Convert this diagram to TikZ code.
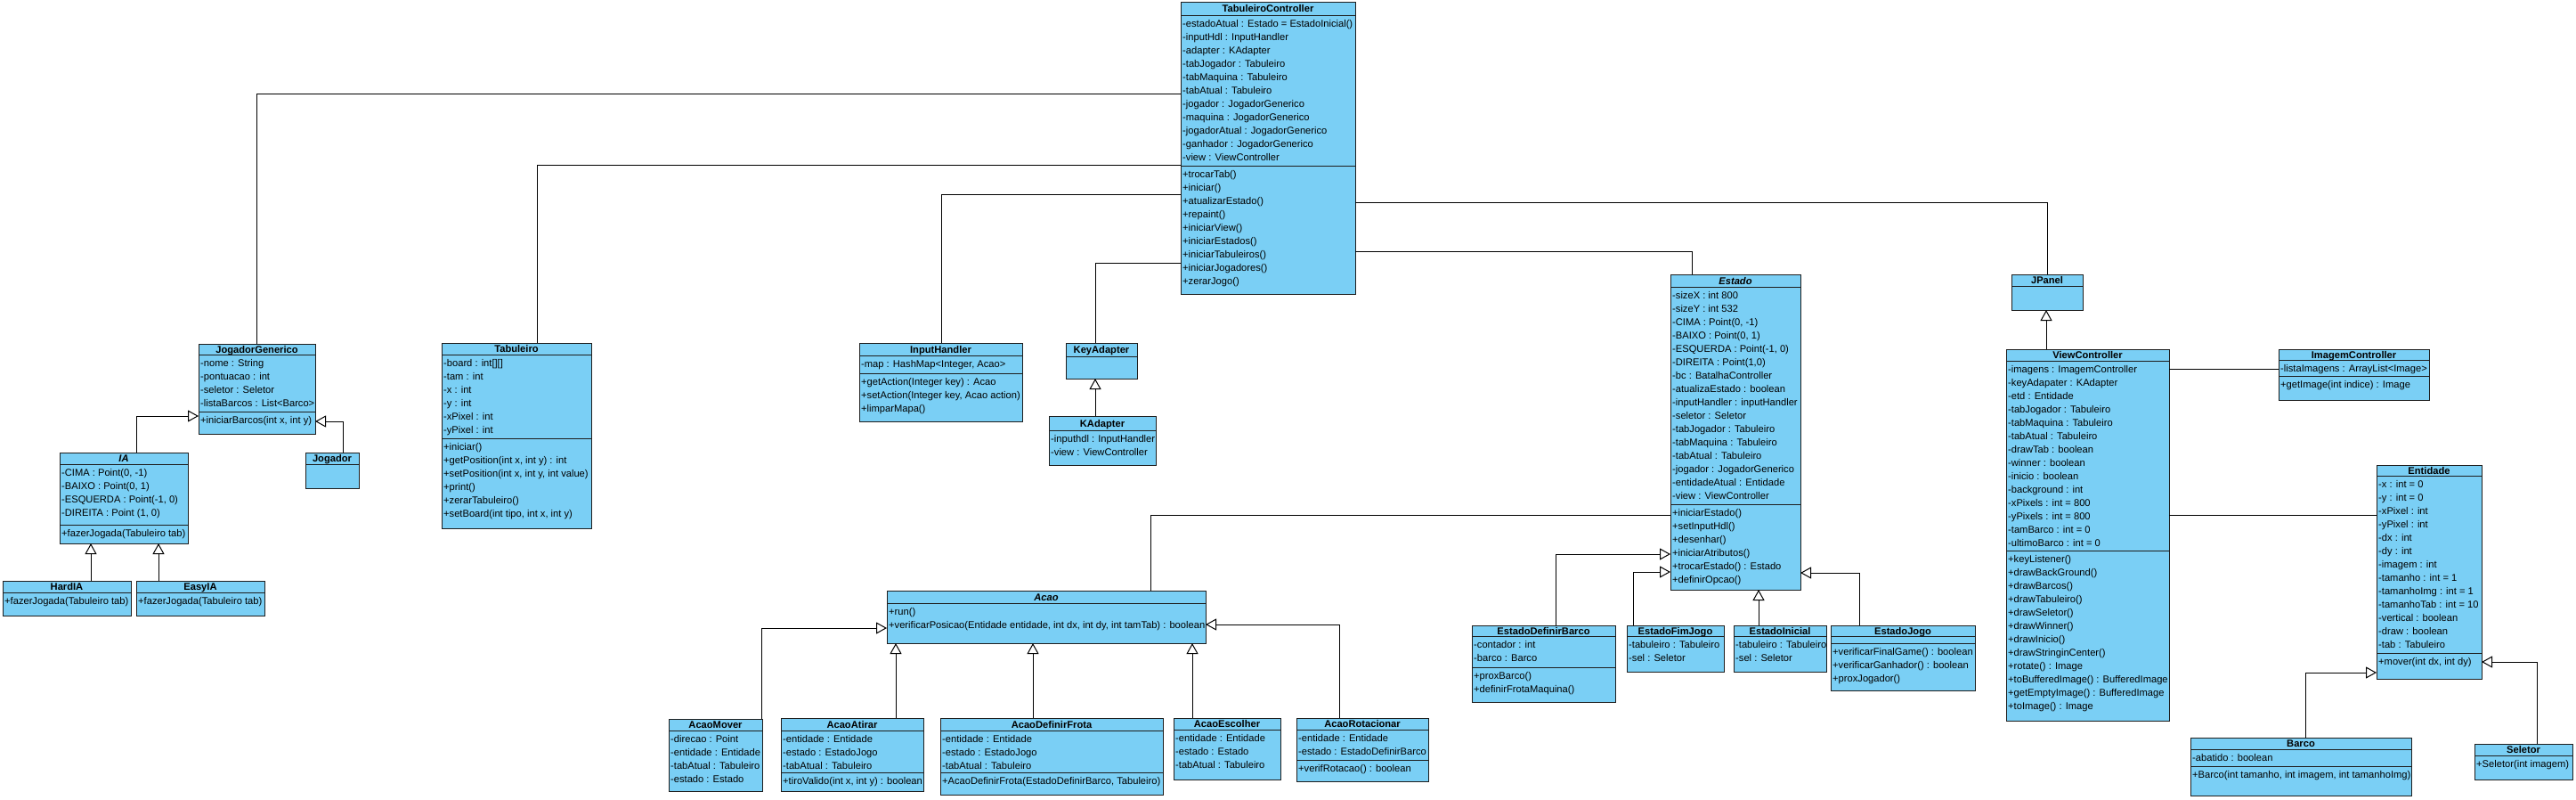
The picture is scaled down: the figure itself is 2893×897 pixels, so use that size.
\documentclass[tikz,border=0pt]{standalone}
\usepackage{fontspec}
\setmainfont{Liberation Sans}
\usetikzlibrary{arrows.meta}
\definecolor{clsfill}{RGB}{122,207,245}
\definecolor{clsline}{RGB}{30,30,30}
\tikzset{
  clsbox/.style={draw=clsline, fill=clsfill, line width=1pt, inner sep=0pt, outer sep=0pt},
  divl/.style={draw=clsline, line width=1pt},
  ttl/.style={anchor=base, inner sep=0pt, font=\fontsize{11.15}{15}\selectfont\bfseries},
  txt/.style={anchor=north west, align=left, inner sep=0pt, font=\fontsize{11.15}{15}\selectfont},
  assoc/.style={draw=black, line width=1pt},
  gen/.style={draw=black, line width=1pt, -{Triangle[open, length=12pt, width=13pt]}},
}
% name, x1, y1, x2, y2, y of title line, title, attributes
\newcommand{\umlcls}[8]{%
  \node[clsbox, anchor=north west, minimum width={#4-#2}, minimum height={#5-#3}] (#1) at (#2,#3) {};
  \draw[divl] (#2,#6) -- (#4,#6);
  \pgfmathsetmacro{\ux}{(#2+#4)/2}%
  \pgfmathsetmacro{\uy}{(#3+#6)/2+4}%
  \node[ttl] (#1-t) at (\ux,\uy) {#7};
  \node[txt] (#1-a) at ({#2+2},{#6+3}) {\strut#8};
}
% name, x1, x2, y of divider, operations
\newcommand{\umlops}[5]{%
  \draw[divl] (#2,#4) -- (#3,#4);
  \node[txt] (#1-o) at ({#2+2},{#4+3}) {\strut#5};
}
\begin{document}
\begin{tikzpicture}[x=1pt, y=-1pt]
\fill[white] (0,0) rectangle (2893,897);
\useasboundingbox (0,0) rectangle (2893,897);

% ---- TabuleiroController
\umlcls{TC}{1326}{2}{1522}{330}{17}{TabuleiroController}{-estadoAtual : Estado = EstadoInicial()\\-inputHdl : InputHandler\\-adapter : KAdapter\\-tabJogador : Tabuleiro\\-tabMaquina : Tabuleiro\\-tabAtual : Tabuleiro\\-jogador : JogadorGenerico\\-maquina : JogadorGenerico\\-jogadorAtual : JogadorGenerico\\-ganhador : JogadorGenerico\\-view : ViewController}
\umlops{TC}{1326}{1522}{186}{+trocarTab()\\+iniciar()\\+atualizarEstado()\\+repaint()\\+iniciarView()\\+iniciarEstados()\\+iniciarTabuleiros()\\+iniciarJogadores()\\+zerarJogo()}

% ---- JogadorGenerico and players
\umlcls{JG}{223}{386}{354}{487}{398}{JogadorGenerico}{-nome : String\\-pontuacao : int\\-seletor : Seletor\\-listaBarcos : List<Barco>}
\umlops{JG}{223}{354}{462}{+iniciarBarcos(int x, int y)}

\umlcls{IA}{67}{508}{211}{610}{521}{\itshape IA}{-CIMA : Point(0, -1)\\-BAIXO : Point(0, 1)\\-ESQUERDA : Point(-1, 0)\\-DIREITA : Point (1, 0)}
\umlops{IA}{67}{211}{589}{+fazerJogada(Tabuleiro tab)}

\umlcls{HIA}{3}{652}{147}{691}{665}{HardIA}{}
\umlops{HIA}{3}{147}{665}{+fazerJogada(Tabuleiro tab)}
\umlcls{EIA}{153}{652}{297}{691}{665}{EasyIA}{}
\umlops{EIA}{153}{297}{665}{+fazerJogada(Tabuleiro tab)}

\umlcls{JOG}{343}{508}{403}{548}{521}{Jogador}{}

% ---- Tabuleiro
\umlcls{TB}{496}{385}{664}{593}{398}{Tabuleiro}{-board : int[][]\\-tam : int\\-x : int\\-y : int\\-xPixel : int\\-yPixel : int}
\umlops{TB}{496}{664}{492}{+iniciar()\\+getPosition(int x, int y) : int\\+setPosition(int x, int y, int value)\\+print()\\+zerarTabuleiro()\\+setBoard(int tipo, int x, int y)}

% ---- InputHandler, KeyAdapter, KAdapter
\umlcls{IH}{965}{385}{1148}{473}{399}{InputHandler}{-map : HashMap<Integer, Acao>}
\umlops{IH}{965}{1148}{419}{+getAction(Integer key) : Acao\\+setAction(Integer key, Acao action)\\+limparMapa()}

\umlcls{KA}{1197}{385}{1277}{425}{400}{KeyAdapter}{}
\umlcls{KAD}{1178}{467}{1298}{522}{483}{KAdapter}{-inputhdl : InputHandler\\-view : ViewController}

% ---- Estado and subclasses
\umlcls{ES}{1876}{308}{2022}{662}{322}{\itshape Estado}{-sizeX : int 800\\-sizeY : int 532\\-CIMA : Point(0, -1)\\-BAIXO : Point(0, 1)\\-ESQUERDA : Point(-1, 0)\\-DIREITA : Point(1,0)\\-bc : BatalhaController\\-atualizaEstado : boolean\\-inputHandler : inputHandler\\-seletor : Seletor\\-tabJogador : Tabuleiro\\-tabMaquina : Tabuleiro\\-tabAtual : Tabuleiro\\-jogador : JogadorGenerico\\-entidadeAtual : Entidade\\-view : ViewController}
\umlops{ES}{1876}{2022}{566}{+iniciarEstado()\\+setInputHdl()\\+desenhar()\\+iniciarAtributos()\\+trocarEstado() : Estado\\+definirOpcao()}

\umlcls{EDB}{1653}{702}{1814}{788}{714}{EstadoDefinirBarco}{-contador : int\\-barco : Barco}
\umlops{EDB}{1653}{1814}{749}{+proxBarco()\\+definirFrotaMaquina()}
\umlcls{EFJ}{1827}{702}{1936}{754}{714}{EstadoFimJogo}{-tabuleiro : Tabuleiro\\-sel : Seletor}
\umlcls{EIN}{1947}{702}{2051}{754}{714}{EstadoInicial}{-tabuleiro : Tabuleiro\\-sel : Seletor}
\umlcls{EJ}{2056}{702}{2218}{775}{714}{EstadoJogo}{}
\umlops{EJ}{2056}{2218}{722}{+verificarFinalGame() : boolean\\+verificarGanhador() : boolean\\+proxJogador()}

% ---- Acao and subclasses
\umlcls{AC}{996}{663}{1354}{722}{677}{\itshape Acao}{}
\umlops{AC}{996}{1354}{677}{+run()\\+verificarPosicao(Entidade entidade, int dx, int dy, int tamTab) : boolean}

\umlcls{AM}{751}{807}{856}{888}{820}{AcaoMover}{-direcao : Point\\-entidade : Entidade\\-tabAtual : Tabuleiro\\-estado : Estado}
\umlcls{AA}{877}{806}{1037}{888}{820}{AcaoAtirar}{-entidade : Entidade\\-estado : EstadoJogo\\-tabAtual : Tabuleiro}
\umlops{AA}{877}{1037}{867}{+tiroValido(int x, int y) : boolean}
\umlcls{ADF}{1056}{806}{1306}{892}{820}{AcaoDefinirFrota}{-entidade : Entidade\\-estado : EstadoJogo\\-tabAtual : Tabuleiro}
\umlops{ADF}{1056}{1306}{867}{+AcaoDefinirFrota(EstadoDefinirBarco, Tabuleiro)}
\umlcls{AE}{1318}{806}{1438}{875}{819}{AcaoEscolher}{-entidade : Entidade\\-estado : Estado\\-tabAtual : Tabuleiro}
\umlcls{AR}{1456}{806}{1604}{877}{819}{AcaoRotacionar}{-entidade : Entidade\\-estado : EstadoDefinirBarco}
\umlops{AR}{1456}{1604}{853}{+verifRotacao() : boolean}

% ---- View side
\umlcls{JP}{2259}{308}{2339}{348}{321}{JPanel}{}
\umlcls{VC}{2253}{392}{2436}{809}{405}{ViewController}{-imagens : ImagemController\\-keyAdapater : KAdapter\\-etd : Entidade\\-tabJogador : Tabuleiro\\-tabMaquina : Tabuleiro\\-tabAtual : Tabuleiro\\-drawTab : boolean\\-winner : boolean\\-inicio : boolean\\-background : int\\-xPixels : int = 800\\-yPixels : int = 800\\-tamBarco : int = 0\\-ultimoBarco : int = 0}
\umlops{VC}{2253}{2436}{618}{+keyListener()\\+drawBackGround()\\+drawBarcos()\\+drawTabuleiro()\\+drawSeletor()\\+drawWinner()\\+drawInicio()\\+drawStringinCenter()\\+rotate() : Image\\+toBufferedImage() : BufferedImage\\+getEmptyImage() : BufferedImage\\+toImage() : Image}
\umlcls{IC}{2559}{392}{2728}{449}{404}{ImagemController}{-listaImagens : ArrayList<Image>}
\umlops{IC}{2559}{2728}{422}{+getImage(int indice) : Image}
\umlcls{EN}{2669}{522}{2787}{762}{534}{Entidade}{-x : int = 0\\-y : int = 0\\-xPixel : int\\-yPixel : int\\-dx : int\\-dy : int\\-imagem : int\\-tamanho : int = 1\\-tamanhoImg : int = 1\\-tamanhoTab : int = 10\\-vertical : boolean\\-draw : boolean\\-tab : Tabuleiro}
\umlops{EN}{2669}{2787}{733}{+mover(int dx, int dy)}
\umlcls{BA}{2460}{828}{2708}{893}{841}{Barco}{-abatido : boolean}
\umlops{BA}{2460}{2708}{860}{+Barco(int tamanho, int imagem, int tamanhoImg)}
\umlcls{SE}{2779}{835}{2889}{875}{848}{Seletor}{}
\umlops{SE}{2779}{2889}{848}{+Seletor(int imagem)}

% ---- associations
\draw[assoc] (288,0 |- JG.north) |- (TC.west |- 0,105);
\draw[assoc] (603,0 |- TB.north) |- (TC.west |- 0,185);
\draw[assoc] (1057,0 |- IH.north) |- (TC.west |- 0,218);
\draw[assoc] (1230,0 |- KA.north) |- (TC.west |- 0,295);
\draw[assoc] (TC.east |- 0,227) -| (2299,0 |- JP.north);
\draw[assoc] (TC.east |- 0,282) -| (1900,0 |- ES.north);
\draw[assoc] (1292,0 |- AC.north) |- (ES.west |- 0,578);
\draw[assoc] (VC.east |- 0,414) -- (IC.west |- 0,414);
\draw[assoc] (VC.east |- 0,578) -- (EN.west |- 0,578);

% ---- generalizations
\draw[gen] (1230,0 |- KAD.north) -- (1230,0 |- KA.south);
\draw[gen] (153,0 |- IA.north) |- (JG.west |- 0,467);
\draw[gen] (385,0 |- JOG.north) |- (JG.east |- 0,473);
\draw[gen] (102,0 |- HIA.north) -- (102,0 |- IA.south);
\draw[gen] (178,0 |- EIA.north) -- (178,0 |- IA.south);
\draw[gen] (855,0 |- AM.north) |- (AC.west |- 0,705);
\draw[gen] (1006,0 |- AA.north) -- (1006,0 |- AC.south);
\draw[gen] (1160,0 |- ADF.north) -- (1160,0 |- AC.south);
\draw[gen] (1339,0 |- AE.north) -- (1339,0 |- AC.south);
\draw[gen] (1504,0 |- AR.north) |- (AC.east |- 0,701);
\draw[gen] (1747,0 |- EDB.north) |- (ES.west |- 0,622);
\draw[gen] (1834,0 |- EFJ.north) |- (ES.west |- 0,642);
\draw[gen] (1975,0 |- EIN.north) -- (1975,0 |- ES.south);
\draw[gen] (2088,0 |- EJ.north) |- (ES.east |- 0,643);
\draw[gen] (2298,0 |- VC.north) -- (2298,0 |- JP.south);
\draw[gen] (2589,0 |- BA.north) |- (EN.west |- 0,755);
\draw[gen] (2849,0 |- SE.north) |- (EN.east |- 0,743);
\end{tikzpicture}
\end{document}
